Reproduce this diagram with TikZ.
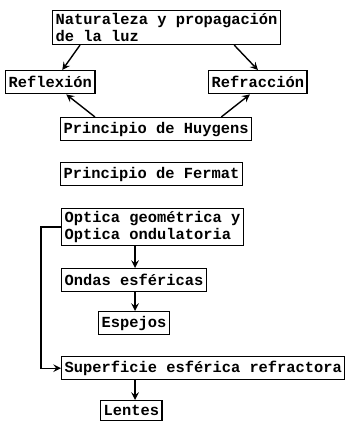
\documentclass[tikz,border=0pt]{standalone}
\usepackage{fontspec}
\setmonofont{Liberation Mono}
\begin{document}
\begin{tikzpicture}[x=0.5pt,y=-0.5pt,>=stealth,
        caja/.style={draw,line width=0.7pt,anchor=north west,inner sep=1.5pt,
            minimum height=11.5pt,align=left,
            font=\ttfamily\bfseries\fontsize{7.7}{8.2}\selectfont}]
    \useasboundingbox (0,0) rectangle (344,422);
    \coordinate (eje) at (135,0);

	\node[caja] (nat) at (52,10) {Naturaleza y propagación\\de la luz};
	\node[caja] (refl) at (5,70) {Reflexión};
	\node[caja] (refr) at (208,70) {Refracción};
	\node[caja] (huy) at (60,117) {Principio de Huygens};
	\node[caja] (fer) at (60,162) {Principio de Fermat};
	\node[caja] (opt) at (61,208) {Optica geométrica y\\Optica ondulatoria};
	\node[caja] (ond) at (61,268) {Ondas esféricas};
	\node[caja] (esp) at (98,311) {Espejos};
	\node[caja] (sup) at (61,356) {Superficie esférica refractora};
	\node[caja,minimum height=10pt] (len) at (100,400) {Lentes};

    \draw[->,line width=0.7pt] ([xshift=14pt]nat.south west) -- ([xshift=6pt]refl.north);
    \draw[->,line width=0.7pt] ([xshift=-23.5pt]nat.south east) -- (refr.north);
    \draw[->,line width=0.7pt] ([xshift=17.5pt]huy.north west) -- ([xshift=8pt]refl.south);
    \draw[->,line width=0.7pt] ([xshift=-15.5pt]huy.north east) -- ([xshift=-4pt]refr.south);

    \draw[->,line width=0.7pt] (eje |- opt.south) -- (eje |- ond.north);
    \draw[->,line width=0.7pt] (eje |- ond.south) -- (eje |- esp.north);
    \draw[->,line width=0.7pt] (eje |- sup.south) -- (eje |- len.north);
    \draw[->,line width=0.7pt] (opt.west) -- ++(-20,0) |- (sup.west);
\end{tikzpicture}
\end{document}
